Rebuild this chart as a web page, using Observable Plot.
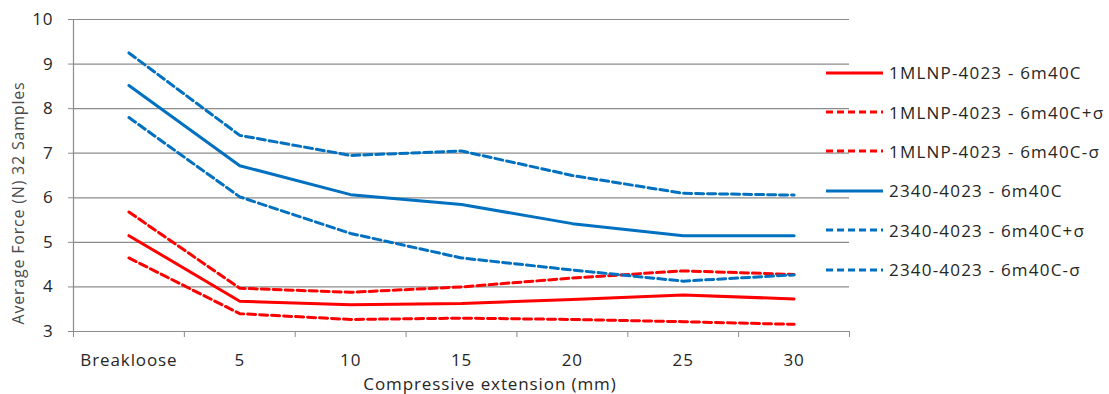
<!DOCTYPE html>
<html><head><meta charset="utf-8">
<script src="https://cdn.jsdelivr.net/npm/d3@7"></script>
<script src="https://cdn.jsdelivr.net/npm/@observablehq/plot@0.6"></script>
<style>
body{margin:0;background:#fff;font-family:"Open Sans",sans-serif;}
#wrap{position:relative;width:1109px;height:394px;overflow:hidden;}
#legend{position:absolute;left:826px;top:53px;font-size:17px;letter-spacing:1.2px;color:#262626;}
.row{display:flex;align-items:center;height:39.4px;white-space:nowrap;}
.row svg{margin-right:6px;}
#ytitle{position:absolute;left:18px;top:203px;transform:translate(-50%,-50%) rotate(-90deg);font-size:16px;letter-spacing:0.8px;color:#4a4a4a;white-space:nowrap;}
#xtitle{position:absolute;left:490px;top:374px;transform:translateX(-50%);font-size:17px;letter-spacing:0.9px;color:#262626;white-space:nowrap;line-height:19px;}
svg text{letter-spacing:0.9px;}
</style></head>
<body><div id="wrap"><div id="legend"></div></div>
<script>
const categories = ["Breakloose","5","10","15","20","25","30"];
const seriesNames = ["1MLNP-4023 - 6m40C","1MLNP-4023 - 6m40C+σ","1MLNP-4023 - 6m40C-σ","2340-4023 - 6m40C","2340-4023 - 6m40C+σ","2340-4023 - 6m40C-σ"];
const redMean  = [5.15, 3.68, 3.60, 3.63, 3.72, 3.82, 3.73];
const redPlus  = [5.68, 3.97, 3.88, 4.00, 4.20, 4.36, 4.28];
const redMinus = [4.65, 3.40, 3.27, 3.30, 3.27, 3.22, 3.16];
const blueMean  = [8.52, 6.72, 6.07, 5.85, 5.42, 5.15, 5.15];
const bluePlus  = [9.25, 7.40, 6.95, 7.05, 6.50, 6.10, 6.06];
const blueMinus = [7.80, 6.02, 5.20, 4.65, 4.38, 4.13, 4.27];
const seriesValues = [redMean, redPlus, redMinus, blueMean, bluePlus, blueMinus];
const seriesColors = ["#FF0000","#FF0000","#FF0000","#0070C0","#0070C0","#0070C0"];
const seriesDash = [null,"8,4","8,4",null,"8,4","8,4"];
const yTicks = [3,4,5,6,7,8,9,10];
const xTitle = "Compressive extension (mm)";
const yTitle = "Average Force (N) 32 Samples";

const data = [];
seriesValues.forEach((vals, s) => vals.forEach((v, i) => data.push({s, i, v})));

const grid = "#8c8c8c";
const marks = [
  Plot.ruleY(yTicks, {stroke: grid, strokeWidth: 1.2}),
  Plot.axisY({ticks: yTicks, tickSize: 5, stroke: grid, tickPadding: 15, fontSize: 17, color: "#262626", tickFormat: d3.format("d"), label: null}),
  Plot.ruleX([-0.5], {stroke: grid, strokeWidth: 1.2}),
  Plot.axisX({ticks: d3.range(-0.5, 7, 1), tickSize: 6, stroke: grid, tickFormat: () => "", label: null}),
  Plot.axisX({ticks: d3.range(0, 7), tickSize: 0, tickPadding: 22, tickFormat: i => categories[i], fontSize: 17, color: "#262626", label: null}),
  Plot.ruleY([3], {stroke: grid, strokeWidth: 1.2})
];
seriesValues.forEach((vals, s) => {
  marks.push(Plot.line(data.filter(d => d.s === s), {x: "i", y: "v", stroke: seriesColors[s], strokeWidth: 3, strokeDasharray: seriesDash[s], curve: "linear"}));
});

const chart = Plot.plot({
  width: 1109, height: 394,
  marginLeft: 73, marginRight: 260, marginTop: 19, marginBottom: 63,
  x: {type: "linear", domain: [-0.5, 6.5]},
  y: {domain: [3, 10]},
  style: {fontFamily: "Open Sans, sans-serif", fontSize: "17px", background: "#fff", color: "#262626", overflow: "visible"},
  marks
});
const wrap = document.getElementById("wrap");
wrap.insertBefore(chart, wrap.firstChild);

const yt = document.createElement("div");
yt.id = "ytitle"; yt.textContent = yTitle;
wrap.appendChild(yt);
const xt = document.createElement("div");
xt.id = "xtitle"; xt.textContent = xTitle;
wrap.appendChild(xt);

const leg = document.getElementById("legend");
seriesNames.forEach((n, s) => {
  const row = document.createElement("div"); row.className = "row";
  row.innerHTML = `<svg width="57" height="6"><line x1="0" x2="57" y1="3" y2="3" stroke="${seriesColors[s]}" stroke-width="3" ${seriesDash[s] ? `stroke-dasharray="7,4"` : ""}/></svg><span>${n}</span>`;
  leg.appendChild(row);
});
</script></body></html>
